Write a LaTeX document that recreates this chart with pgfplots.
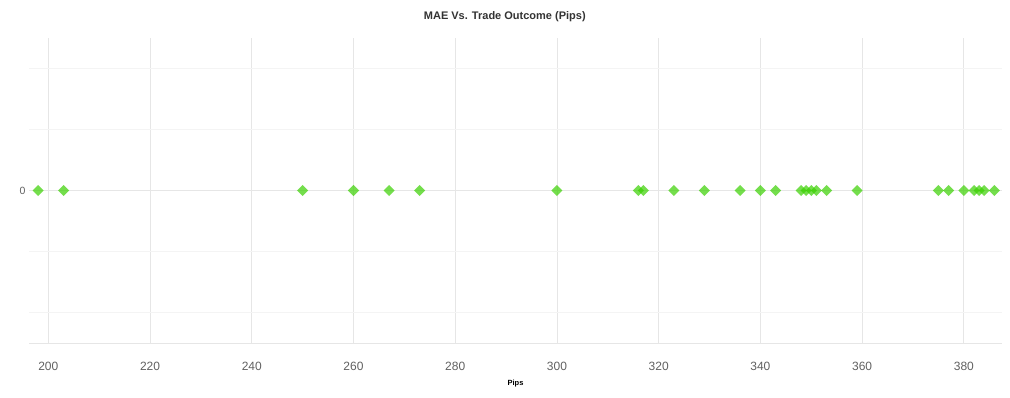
\documentclass[border=0pt]{standalone}
\usepackage{pgfplots}
\pgfplotsset{compat=1.18}
\usepackage{fontspec}
\setmainfont{Liberation Sans}
\definecolor{mygreen}{RGB}{57,208,0}
\definecolor{gridc}{RGB}{230,230,230}
\definecolor{gridl}{RGB}{244,244,244}
\definecolor{ticktxt}{RGB}{96,96,96}
\definecolor{titletxt}{RGB}{51,51,51}
\begin{document}
\begin{tikzpicture}[x=1pt,y=1pt]
\useasboundingbox (0,0) rectangle (1010,397);
\begin{axis}[
  at={(29pt,54pt)}, anchor=south west,
  scale only axis, width=973pt, height=305pt,
  xmin=196.2, xmax=387.5, ymin=-2.5, ymax=2.5,
  xtick={200,220,...,380},
  ytick={-2,-1,1,2},
  yticklabels={},
  extra y ticks={0},
  extra y tick labels={0},
  extra y tick style={grid style={draw=gridc, line width=0.8pt}},
  xmajorgrids, ymajorgrids,
  grid style={draw=gridl, line width=0.8pt},
  x grid style={draw=gridc, line width=0.8pt},
  axis line style={draw=none},
  tick style={draw=none},
  /pgf/number format/assume math mode=true,
  xticklabel style={anchor=center, yshift=-23pt, font=\fontsize{12}{14}\selectfont, text=ticktxt},
  yticklabel style={anchor=east, xshift=0pt, font=\fontsize{10.5}{12}\selectfont, text=ticktxt},
  title={MAE Vs. Trade Outcome (Pips)},
  title style={at={(axis description cs:0.489,1)}, anchor=center, yshift=15pt, font=\bfseries\fontsize{11}{13}\selectfont, text=titletxt},
  xlabel={Pips},
  xlabel style={at={(axis description cs:0.5,0)}, anchor=center, yshift=-41pt, font=\bfseries\fontsize{7.5}{9}\selectfont, text=black},
  clip=false,
]
\draw[gridc, line width=0.8pt] (rel axis cs:0,0) -- (rel axis cs:1,0);
\addplot[only marks, color=mygreen, mark=square*, mark size=3.9pt,
  mark options={rotate=45, draw=mygreen, draw opacity=0, fill=mygreen, fill opacity=0.7}]
  table[x=x, y=y] {
x y
198 0
203 0
250 0
260 0
267 0
273 0
300 0
316 0
317 0
323 0
329 0
336 0
340 0
343 0
348 0
349 0
350 0
351 0
353 0
359 0
375 0
377 0
380 0
382 0
383 0
384 0
386 0
};
\end{axis}
\end{tikzpicture}
\end{document}
